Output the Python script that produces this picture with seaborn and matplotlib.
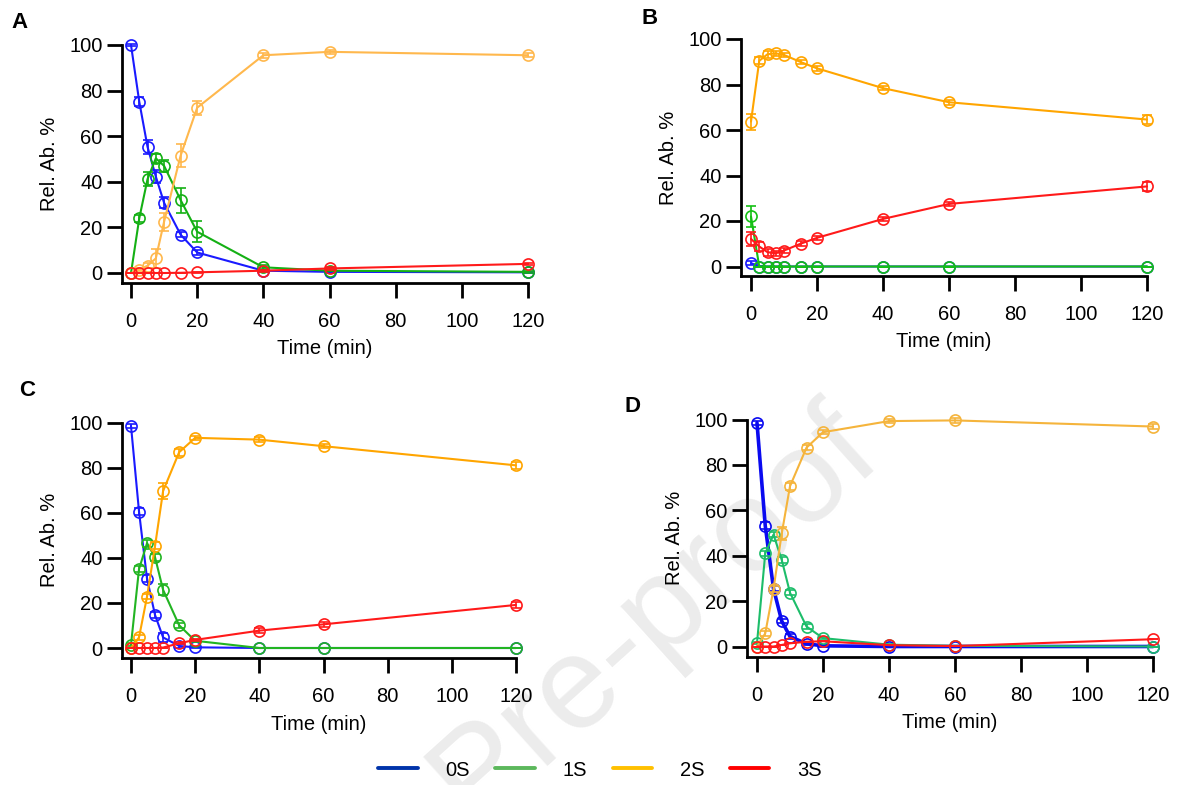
import matplotlib
matplotlib.use("Agg")
import matplotlib.pyplot as plt
from matplotlib.lines import Line2D
import seaborn as sns

# ---------------- data ----------------
TIME = [0, 2.5, 5, 7.5, 10, 15, 20, 40, 60, 120]
SERIES = ["0S", "1S", "2S", "3S"]
PANELS = ["A", "B", "C", "D"]
TIME_TICKS = [0, 20, 40, 60, 80, 100, 120]
ABUND_TICKS = [0, 20, 40, 60, 80, 100]

A_0S = [100, 75.1, 55.3, 42.3, 30.8, 16.8, 9.0, 1.0, 0.5, 0.3]
A_1S = [0, 24.0, 41.2, 50.3, 47.0, 32.0, 18.1, 2.5, 1.0, 0.5]
A_2S = [0, 1.5, 3.2, 6.4, 22.5, 51.5, 72.5, 95.5, 97.0, 95.5]
A_3S = [0, 0, 0, 0, 0, 0.1, 0.3, 1.0, 2.0, 4.0]
A_0S_ERR = [0.3, 2.0, 3.0, 3.0, 2.5, 1.0, 1.0, 0.5, 0.3, 0.3]
A_1S_ERR = [0, 1.5, 3.0, 2.0, 2.5, 5.5, 4.5, 0.8, 0.3, 0.3]
A_2S_ERR = [0, 0.5, 1.0, 4.0, 4.0, 5.0, 3.0, 1.0, 0.8, 0.8]
A_3S_ERR = [0, 0, 0, 0, 0, 0, 0.3, 0.5, 0.5, 0.5]

B_0S = [1.5, 0, 0, 0, 0, 0, 0, 0, 0, 0]
B_1S = [22.0, 0, 0, 0, 0, 0, 0, 0, 0, 0]
B_2S = [63.7, 90.4, 93.3, 93.7, 93.0, 89.9, 87.1, 78.4, 72.2, 64.6]
B_3S = [12.1, 8.8, 6.3, 5.8, 7.0, 10.0, 12.6, 20.9, 27.5, 35.2]
B_0S_ERR = [1.0, 0.3, 0, 0, 0, 0, 0, 0, 0, 0]
B_1S_ERR = [4.5, 0, 0, 0, 0, 0, 0, 0, 0, 0]
B_2S_ERR = [3.5, 1.5, 1.5, 1.0, 1.0, 1.0, 1.0, 1.0, 1.0, 2.0]
B_3S_ERR = [3.0, 2.0, 1.5, 1.0, 1.0, 1.0, 1.0, 1.0, 1.0, 2.0]

C_0S = [98.5, 60.5, 30.7, 14.6, 4.7, 0.9, 0.3, 0, 0, 0]
C_1S = [1.5, 35.0, 46.5, 40.2, 25.8, 10.1, 3.2, 0, 0, 0]
C_2S = [0, 4.7, 22.8, 45.3, 69.6, 86.8, 93.2, 92.4, 89.5, 81.0]
C_3S = [0, 0, 0, 0, 0.2, 2.1, 3.6, 7.7, 10.5, 19.1]
C_0S_ERR = [1.0, 1.5, 1.5, 1.5, 2.0, 1.0, 0.3, 0, 0, 0]
C_1S_ERR = [0.5, 1.5, 1.5, 1.5, 2.5, 1.2, 0.5, 0, 0, 0]
C_2S_ERR = [0, 1.0, 1.0, 1.5, 3.5, 1.5, 1.0, 1.0, 1.0, 1.5]
C_3S_ERR = [0, 0, 0, 0, 0, 0.5, 0.5, 1.0, 1.0, 1.5]

D_0S = [98.5, 53.2, 25.5, 11.2, 4.4, 1.2, 0.3, 0, 0, 0]
D_1S = [1.5, 41.0, 49.3, 38.1, 23.7, 8.8, 3.7, 0.8, 0.3, 0]
D_2S = [0, 5.8, 25.3, 49.8, 70.6, 87.6, 94.4, 99.3, 99.6, 96.9]
D_3S = [0, 0, 0, 0.7, 1.4, 2.1, 2.3, 0.6, 0.2, 3.2]
D_0S_ERR = [1.0, 1.5, 1.0, 1.0, 1.0, 0.5, 0.3, 0, 0, 0]
D_1S_ERR = [0.5, 1.0, 1.0, 1.5, 1.0, 1.0, 0.5, 0.3, 0, 0]
D_2S_ERR = [0, 1.0, 1.5, 3.0, 1.5, 1.0, 1.0, 1.0, 1.0, 1.0]
D_3S_ERR = [0, 0, 0, 0, 0, 0, 0, 0, 0, 0]

PANEL_DATA = {
    "A": [(A_0S, A_0S_ERR), (A_1S, A_1S_ERR), (A_2S, A_2S_ERR), (A_3S, A_3S_ERR)],
    "B": [(B_0S, B_0S_ERR), (B_1S, B_1S_ERR), (B_2S, B_2S_ERR), (B_3S, B_3S_ERR)],
    "C": [(C_0S, C_0S_ERR), (C_1S, C_1S_ERR), (C_2S, C_2S_ERR), (C_3S, C_3S_ERR)],
    "D": [(D_0S, D_0S_ERR), (D_1S, D_1S_ERR), (D_2S, D_2S_ERR), (D_3S, D_3S_ERR)],
}

# ---------------- style ----------------
sns.set_style("ticks")
plt.rcParams["font.family"] = ["Liberation Sans", "DejaVu Sans"]
plt.rcParams["font.size"] = 14.5
plt.rcParams["text.color"] = "black"
plt.rcParams["axes.labelcolor"] = "black"
plt.rcParams["xtick.color"] = "black"
plt.rcParams["ytick.color"] = "black"

PANEL_COLORS = {
    "A": ["#1a1aff", "#14b014", "#ffb84d", "#ff1a1a"],
    "B": ["#1a1aff", "#14c014", "#ffa500", "#ff1a1a"],
    "C": ["#1a1aff", "#22b422", "#ffa500", "#ff1a1a"],
    "D": ["#0a0af0", "#1dbd6a", "#f5b43c", "#ff1a1a"],
}
LEGEND_COLORS = ["#0033aa", "#5cb85c", "#ffc000", "#ff0000"]
DRAW_ORDER = [2, 1, 0, 3]

W, H = 1181, 785
GEOM = {
    "A": dict(l=122, r=528, t=45, b=283, x0=131, y0=273),
    "B": dict(l=741, r=1147, t=39, b=276, x0=751, y0=266.5),
    "C": dict(l=122, r=516, t=422.5, b=658, x0=131, y0=648),
    "D": dict(l=747, r=1153, t=419.5, b=656.5, x0=757, y0=646.5),
}
LETTER_POS = {"A": (20, 23), "B": (650, 18), "C": (27, 390), "D": (632, 406)}

fig = plt.figure(figsize=(W / 100, H / 100), dpi=100)

# watermark (behind everything)
wm = fig.text(885 / W, 1 - 462 / H, "Journal Pre-proof", fontsize=95, color="#ececec",
              rotation=42, rotation_mode="anchor", ha="right", va="baseline")
wm.set_zorder(-10)

for p in PANELS:
    g = GEOM[p]
    ax = fig.add_axes([g["l"] / W, 1 - g["b"] / H, (g["r"] - g["l"]) / W, (g["b"] - g["t"]) / H])
    ax.patch.set_alpha(0)
    xs = (g["r"] - g["x0"]) / 120.0
    ys = (g["y0"] - g["t"]) / 100.0
    ax.set_xlim(-(g["x0"] - g["l"]) / xs, 120)
    ax.set_ylim(-(g["b"] - g["y0"]) / ys, 100)
    cols = PANEL_COLORS[p]
    for i in DRAW_ORDER:
        vals, err = PANEL_DATA[p][i]
        c = cols[i]
        lw = 2.6 if (p == "D" and i == 0) else 1.5
        ax.errorbar(TIME, vals, yerr=err, fmt="none", ecolor=c, elinewidth=1.2,
                    capsize=3.8, capthick=1.2, clip_on=False, zorder=3 + i)
        sns.lineplot(x=TIME, y=vals, ax=ax, color=c, lw=lw, marker="o", ms=8,
                     mfc="none", mec=c, mew=1.2, clip_on=False, zorder=3 + i,
                     errorbar=None, sort=False)
    ax.set_xticks(TIME_TICKS)
    ax.set_yticks(ABUND_TICKS)
    ax.tick_params(axis="both", length=11, width=2, labelsize=14.5,
                   color="black", labelcolor="black")
    ax.tick_params(axis="x", pad=10)
    ax.tick_params(axis="y", pad=3)
    for s in ["top", "right"]:
        ax.spines[s].set_visible(False)
    for s in ["left", "bottom"]:
        ax.spines[s].set_linewidth(2)
        ax.spines[s].set_color("black")
    ax.set_xlabel("Time (min)", fontsize=14.5, labelpad=6, color="black")
    ax.set_ylabel("Rel. Ab. %", fontsize=14.5, labelpad=7, color="black")
    lx, ly = LETTER_POS[p]
    fig.text(lx / W, 1 - ly / H, p, fontsize=16, fontweight="bold", ha="center", va="center",
             color="black")

handles = [Line2D([0], [0], color=c, lw=2.8) for c in LEGEND_COLORS]
leg = fig.legend(handles, SERIES, loc="center", bbox_to_anchor=(600 / W, 1 - 770 / H), ncol=4,
                 frameon=False, fontsize=14.5, handlelength=1.95, handletextpad=1.4,
                 columnspacing=1.25)
for t in leg.get_texts():
    t.set_color("black")

fig.savefig("out.png", dpi=100)
